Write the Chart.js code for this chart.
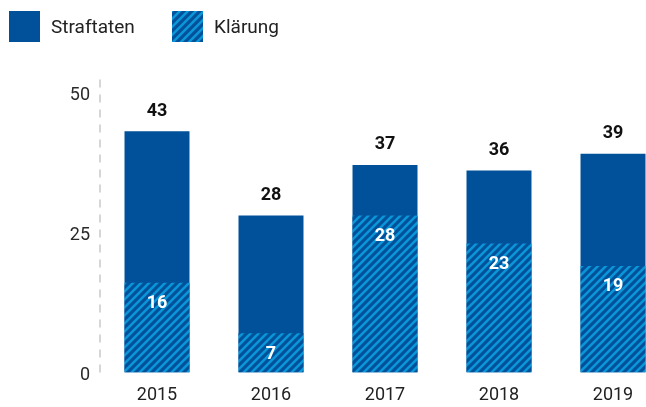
<!DOCTYPE html>
<html>
<head>
<meta charset="utf-8">
<script src="https://cdn.jsdelivr.net/npm/chart.js@4/dist/chart.umd.min.js"></script>
<style>
  html, body { margin: 0; padding: 0; background: #fff; overflow: hidden; }
  #wrap { position: relative; width: 680px; height: 407px; }
  .leg { position: absolute; display: flex; align-items: center; font-family: Roboto, sans-serif; font-size: 19px; color: #222; height: 31px; }
  .leg canvas { width: 31px; height: 31px; margin-right: 11px; display: block; }
</style>
</head>
<body>
<div id="wrap">
  <canvas id="chart"></canvas>
  <div class="leg" style="left:9px; top:11px;"><canvas id="lg0" width="31" height="31"></canvas><span>Straftaten</span></div>
  <div class="leg" style="left:172px; top:11px;"><canvas id="lg1" width="31" height="31"></canvas><span>Klärung</span></div>
</div>
<script>
const categories = ['2015', '2016', '2017', '2018', '2019'];
const straftaten = [43, 28, 37, 36, 39];
const klaerung = [16, 7, 28, 23, 19];
const yTicks = [0, 25, 50];
const seriesNames = ['Straftaten', 'Klärung'];

const DARK = '#00519a';
const LIGHT = '#0a96d8';

function makePattern(ctx) {
  const c = document.createElement('canvas');
  c.width = 8; c.height = 8;
  const p = c.getContext('2d');
  p.fillStyle = DARK;
  p.fillRect(0, 0, 8, 8);
  p.strokeStyle = LIGHT;
  p.lineWidth = 2.6;
  p.beginPath();
  p.moveTo(-1, 9); p.lineTo(9, -1);
  p.moveTo(-5, 5); p.lineTo(5, -5);
  p.moveTo(3, 13); p.lineTo(13, 3);
  p.stroke();
  return ctx.createPattern(c, 'repeat');
}

const mainCtx = document.getElementById('chart').getContext('2d');
const hatch = makePattern(mainCtx);

// legend boxes
const l0 = document.getElementById('lg0').getContext('2d');
l0.fillStyle = DARK; l0.fillRect(0, 0, 31, 31);
const l1 = document.getElementById('lg1').getContext('2d');
l1.fillStyle = makePattern(l1); l1.fillRect(0, 0, 31, 31);

const axisLinePlugin = {
  id: 'dashedAxis',
  beforeDatasetsDraw(chart) {
    const ctx = chart.ctx;
    const a = chart.chartArea;
    ctx.save();
    ctx.strokeStyle = '#d6d6d6';
    ctx.lineWidth = 2;
    ctx.setLineDash([8, 7]);
    ctx.beginPath();
    ctx.moveTo(a.left, a.bottom);
    ctx.lineTo(a.left, a.top);
    ctx.stroke();
    ctx.restore();
  }
};

const labelPlugin = {
  id: 'valueLabels',
  afterDatasetsDraw(chart) {
    const ctx = chart.ctx;
    ctx.save();
    ctx.textAlign = 'center';
    ctx.textBaseline = 'middle';
    ctx.font = 'bold 18px Roboto, sans-serif';
    chart.data.datasets.forEach((ds, i) => {
      const meta = chart.getDatasetMeta(i);
      meta.data.forEach((bar, j) => {
        const v = ds.data[j];
        if (i === 0) {
          ctx.fillStyle = '#111';
          ctx.fillText(String(v), bar.x, bar.y - 20);
        } else {
          ctx.fillStyle = '#ffffff';
          ctx.fillText(String(v), bar.x, bar.y + 21);
        }
      });
    });
    ctx.restore();
  }
};

Chart.defaults.font.family = 'Roboto, sans-serif';
Chart.defaults.font.size = 18;
Chart.defaults.color = '#222';

new Chart(mainCtx, {
  type: 'bar',
  data: {
    labels: categories,
    datasets: [
      { label: seriesNames[0], data: straftaten, backgroundColor: DARK, order: 2,
        grouped: false, barPercentage: 0.57, categoryPercentage: 1 },
      { label: seriesNames[1], data: klaerung, backgroundColor: hatch, order: 1,
        grouped: false, barPercentage: 0.57, categoryPercentage: 1 }
    ]
  },
  options: {
    responsive: true,
    maintainAspectRatio: false,
    animation: false,
    layout: { padding: { top: 78, right: 10, left: 0, bottom: 0 } },
    plugins: { legend: { display: false }, tooltip: { enabled: false } },
    scales: {
      x: {
        grid: { display: false, drawTicks: false },
        border: { display: false },
        ticks: { padding: 12, color: '#222', font: { size: 18 } },
        afterFit(s) { s.height = 34.5; }
      },
      y: {
        min: 0, max: 52.5,
        grid: { display: false, drawTicks: false },
        border: { display: false },
        ticks: { padding: 10, labelOffset: 3, color: '#2a2a2a', font: { size: 18 } },
        afterBuildTicks(s) { s.ticks = yTicks.map(v => ({ value: v })); },
        afterFit(s) { s.width = 100; }
      }
    }
  },
  plugins: [axisLinePlugin, labelPlugin]
});
</script>
</body>
</html>
